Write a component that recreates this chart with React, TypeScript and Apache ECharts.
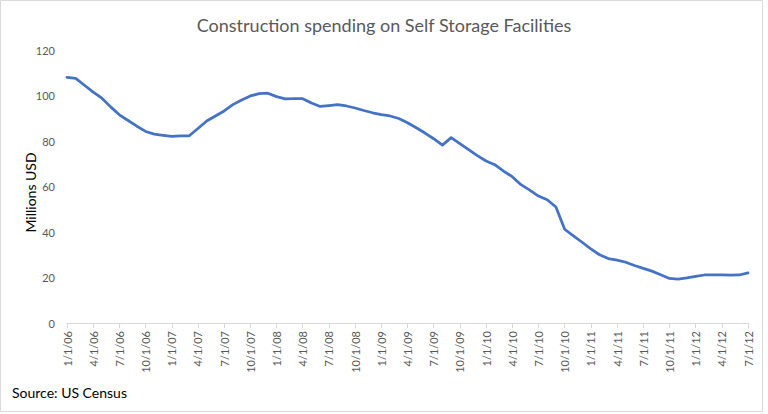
import React, { useEffect, useRef } from "react";
import * as echarts from "echarts";

const titleText = "Construction spending on Self Storage Facilities";
const yAxisName = "Millions USD";
const sourceText = "Source: US Census";

const months: string[] = [
  "1/1/06", "2/1/06", "3/1/06", "4/1/06", "5/1/06", "6/1/06", "7/1/06", "8/1/06", "9/1/06", "10/1/06", "11/1/06", "12/1/06",
  "1/1/07", "2/1/07", "3/1/07", "4/1/07", "5/1/07", "6/1/07", "7/1/07", "8/1/07", "9/1/07", "10/1/07", "11/1/07", "12/1/07",
  "1/1/08", "2/1/08", "3/1/08", "4/1/08", "5/1/08", "6/1/08", "7/1/08", "8/1/08", "9/1/08", "10/1/08", "11/1/08", "12/1/08",
  "1/1/09", "2/1/09", "3/1/09", "4/1/09", "5/1/09", "6/1/09", "7/1/09", "8/1/09", "9/1/09", "10/1/09", "11/1/09", "12/1/09",
  "1/1/10", "2/1/10", "3/1/10", "4/1/10", "5/1/10", "6/1/10", "7/1/10", "8/1/10", "9/1/10", "10/1/10", "11/1/10", "12/1/10",
  "1/1/11", "2/1/11", "3/1/11", "4/1/11", "5/1/11", "6/1/11", "7/1/11", "8/1/11", "9/1/11", "10/1/11", "11/1/11", "12/1/11",
  "1/1/12", "2/1/12", "3/1/12", "4/1/12", "5/1/12", "6/1/12", "7/1/12",
];

const spending: number[] = [
  108, 107.5, 104.5, 101.5, 98.8, 95, 91.5, 89, 86.5, 84.2, 83, 82.5,
  82, 82.3, 82.3, 85.5, 88.8, 91, 93.2, 96, 98, 99.8, 100.8, 101,
  99.5, 98.5, 98.6, 98.6, 96.7, 95.2, 95.6, 96, 95.4, 94.5, 93.4, 92.4,
  91.6, 91, 89.9, 88, 85.8, 83.5, 81, 78.2, 81.5, 78.8, 76.2, 73.6,
  71.2, 69.6, 66.8, 64.3, 60.8, 58.4, 55.8, 54.2, 51, 41.2, 38.3, 35.5,
  32.6, 30, 28.3, 27.6, 26.7, 25.3, 24, 22.8, 21.2, 19.6, 19.3, 19.8,
  20.5, 21.1, 21.2, 21.2, 21, 21.1, 22,
];

const yTicks = { min: 0, max: 120, interval: 20 };

export default function App() {
  const ref = useRef<HTMLDivElement>(null);
  useEffect(() => {
    if (!ref.current) return;
    const chart = echarts.init(ref.current, undefined, { renderer: "svg" });
    chart.setOption({
      animation: false,
      backgroundColor: "#ffffff",
      textStyle: { fontFamily: "Lato" },
      title: {
        text: titleText,
        left: "center",
        top: 11,
        textStyle: { fontFamily: "Lato", fontSize: 18, fontWeight: "normal", color: "#595959" },
      },
      graphic: [
        {
          type: "rect",
          shape: { x: 0.5, y: 0.5, width: 762, height: 411 },
          style: { fill: "none", stroke: "#d9d9d9", lineWidth: 1 },
          silent: true,
        },
        {
          type: "text",
          left: 12,
          top: 385,
          style: { text: sourceText, fontFamily: "Lato", fontSize: 14, fill: "#000000" },
        },
      ],
      grid: { left: 67, right: 20, top: 50, bottom: 91, containLabel: false },
      xAxis: {
        type: "category",
        data: months,
        boundaryGap: false,
        axisLine: { show: true, lineStyle: { color: "#d9d9d9", width: 1 } },
        axisTick: { show: true, interval: 2, length: 5, lineStyle: { color: "#d9d9d9" } },
        axisLabel: {
          interval: 2,
          rotate: 90,
          margin: 8,
          color: "#595959",
          fontFamily: "Lato",
          fontSize: 11,
        },
        splitLine: { show: false },
      },
      yAxis: {
        type: "value",
        min: yTicks.min,
        max: yTicks.max,
        interval: yTicks.interval,
        name: yAxisName,
        nameLocation: "middle",
        nameGap: 30,
        nameRotate: 90,
        nameMoveOverlap: false,
        nameTextStyle: { color: "#000000", fontFamily: "Lato", fontSize: 14, padding: [0, 12, 0, 0] },
        axisLine: { show: false },
        axisTick: { show: false },
        splitLine: { show: false },
        axisLabel: { color: "#595959", fontFamily: "Lato", fontSize: 11, margin: 12 },
      },
      series: [
        {
          type: "line",
          data: spending,
          symbol: "none",
          lineStyle: { color: "#4472C4", width: 2.75, cap: "round", join: "round" },
        },
      ],
    });
    return () => chart.dispose();
  }, []);
  return (
    <div
      ref={ref}
      style={{ position: "absolute", left: 0, top: 0, width: 768, height: 414 }}
    />
  );
}
